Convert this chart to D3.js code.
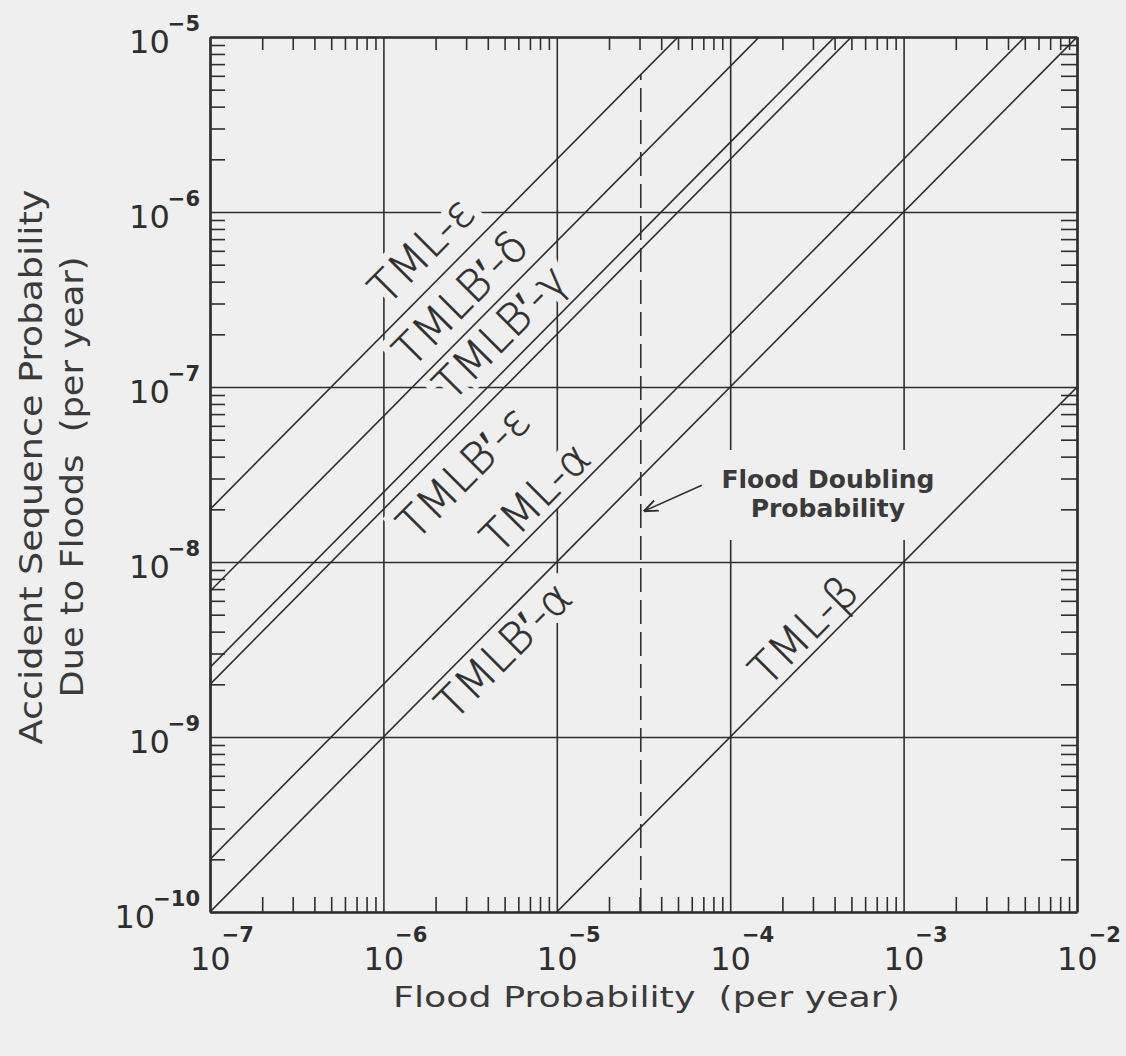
<!DOCTYPE html>
<html>
<head>
<meta charset="utf-8">
<script src="https://cdn.jsdelivr.net/npm/d3@7"></script>
<style>
body { margin: 0; background: #efefef; }
svg { display: block; }
text { font-family: "DejaVu Sans", "Liberation Sans", sans-serif; white-space: pre; }
</style>
</head>
<body>
<script>
// accident sequences, each one is sequence prob = ratio * flood prob
const SEQUENCES = ["TML-ε", "TMLB′-δ", "TMLB′-γ", "TMLB′-ε", "TML-α", "TMLB′-α", "TML-β"]
const RATIOS = [0.2, 0.068, 0.025, 0.02, 0.002, 0.001, 1e-5]

// where the sequence names sit (flood prob, sequence prob)
const LABEL_X = [1.65e-6, 2.77e-6, 4.7e-6, 2.88e-6, 7.48e-6, 4.9e-6, 2.63e-4]
const LABEL_Y = [6.07e-7, 3.23e-7, 2.06e-7, 3.27e-8, 2.35e-8, 3.14e-9, 4.08e-9]

const X_DECADES = [-7, -6, -5, -4, -3, -2]
const Y_DECADES = [-10, -9, -8, -7, -6, -5]

const FLOOD_DOUBLING = 3.05e-5
const NOTE_LINES = ["Flood Doubling", "Probability"]
const NOTE_AT = [3.66e-4, 2.65e-8]
const ARROW_TIP_Y = 1.95e-8

const W = 1126, H = 1056
const LEFT = 210, RIGHT = 1077, TOP = 37, BOTTOM = 912
const BG = "#efefef"
const INK = "#2e2e2e"

const svg = d3.select("body").append("svg")
    .attr("width", W)
    .attr("height", H)

svg.append("rect").attr("width", W).attr("height", H).attr("fill", BG)

const x = d3.scaleLog().domain([1e-7, 1e-2]).range([LEFT, RIGHT])
const y = d3.scaleLog().domain([1e-10, 1e-5]).range([BOTTOM, TOP])

const isDecade = v => Math.abs(Math.log10(v) - Math.round(Math.log10(v))) < 1e-6
const xMinor = x.ticks().filter(v => !isDecade(v))
const yMinor = y.ticks().filter(v => !isDecade(v))

// grid lines at the decades
svg.append("g")
    .attr("transform", `translate(0,${BOTTOM})`)
    .call(d3.axisBottom(x).tickValues(X_DECADES.map(d => 10 ** d)).tickSize(-(BOTTOM - TOP)).tickFormat(""))
    .call(g => g.select(".domain").remove())
    .call(g => g.selectAll("line").attr("stroke", INK).attr("stroke-width", 1.4))
svg.append("g")
    .attr("transform", `translate(${LEFT},0)`)
    .call(d3.axisLeft(y).tickValues(Y_DECADES.map(d => 10 ** d)).tickSize(-(RIGHT - LEFT)).tickFormat(""))
    .call(g => g.select(".domain").remove())
    .call(g => g.selectAll("line").attr("stroke", INK).attr("stroke-width", 1.4))

// label knockouts so the grid breaks round the lettering
const angle = Math.atan2(y(1e-9) - y(1e-10), x(1e-6) - x(1e-7)) * 180 / Math.PI
const labelG = d => `translate(${x(LABEL_X[d])},${y(LABEL_Y[d])}) rotate(${angle})`

svg.append("g").selectAll("text")
    .data(d3.range(SEQUENCES.length))
    .join("text")
    .attr("transform", labelG)
    .attr("text-anchor", "middle")
    .attr("dy", "0.36em")
    .attr("font-size", 44)
    .attr("font-weight", 200)
    .attr("fill", BG)
    .attr("stroke", BG)
    .attr("stroke-width", 16)
    .text(d => SEQUENCES[d])

const noteX = x(NOTE_AT[0]), noteY = y(NOTE_AT[1])
svg.append("rect")
    .attr("x", noteX - 128).attr("y", noteY - 38)
    .attr("width", 250).attr("height", 90)
    .attr("fill", BG)

// sequence lines
const clip = svg.append("clipPath").attr("id", "plot")
clip.append("rect").attr("x", LEFT).attr("y", TOP).attr("width", RIGHT - LEFT).attr("height", BOTTOM - TOP)

const line = d3.line().x(d => x(d[0])).y(d => y(d[1]))
svg.append("g")
    .attr("clip-path", "url(#plot)")
    .selectAll("path")
    .data(RATIOS)
    .join("path")
    .attr("d", r => line(x.domain().map(f => [f, r * f])))
    .attr("fill", "none")
    .attr("stroke", INK)
    .attr("stroke-width", 1.6)

// flood doubling probability, dashed up to the top line
svg.append("path")
    .attr("d", line([[FLOOD_DOUBLING, y.domain()[0]], [FLOOD_DOUBLING, RATIOS[0] * FLOOD_DOUBLING]]))
    .attr("stroke", INK)
    .attr("stroke-width", 1.6)
    .attr("stroke-dasharray", "24,8")
    .attr("fill", "none")

// frame + minor ticks on all four sides
svg.append("g").attr("transform", `translate(0,${BOTTOM})`)
    .call(d3.axisBottom(x).tickValues(xMinor).tickSizeInner(-15).tickSizeOuter(0).tickFormat(""))
svg.append("g").attr("transform", `translate(0,${TOP})`)
    .call(d3.axisTop(x).tickValues(xMinor).tickSizeInner(-13).tickSizeOuter(0).tickFormat(""))
svg.append("g").attr("transform", `translate(${LEFT},0)`)
    .call(d3.axisLeft(y).tickValues(yMinor).tickSizeInner(-15).tickSizeOuter(0).tickFormat(""))
svg.append("g").attr("transform", `translate(${RIGHT},0)`)
    .call(d3.axisRight(y).tickValues(yMinor).tickSizeInner(-16).tickSizeOuter(0).tickFormat(""))
svg.selectAll(".tick line").attr("stroke", INK).attr("stroke-width", 1.6)
svg.selectAll(".domain").attr("stroke", INK).attr("stroke-width", 2.6)

// tick labels 10^n
const xl = svg.append("g").selectAll("text")
    .data(X_DECADES)
    .join("text")
    .attr("x", d => x(10 ** d) - 20)
    .attr("y", BOTTOM + 58)
    .attr("fill", INK)
    .attr("font-size", 32)
xl.append("tspan").text("10")
xl.append("tspan").attr("dx", -9).attr("dy", -28)
    .attr("font-size", 21).attr("font-weight", "bold")
    .text(d => "−" + (-d))

const yl = svg.append("g").selectAll("text")
    .data(Y_DECADES)
    .join("text")
    .attr("x", LEFT - 10)
    .attr("y", d => y(10 ** d) + 16)
    .attr("text-anchor", "end")
    .attr("fill", INK)
    .attr("font-size", 32)
yl.append("tspan").text("10")
yl.append("tspan").attr("dx", -2).attr("dy", -22)
    .attr("font-size", 21).attr("font-weight", "bold")
    .text(d => "−" + (-d))

// sequence names
svg.append("g").selectAll("text")
    .data(d3.range(SEQUENCES.length))
    .join("text")
    .attr("transform", labelG)
    .attr("text-anchor", "middle")
    .attr("dy", "0.36em")
    .attr("font-size", 44)
    .attr("font-weight", 200)
    .attr("fill", INK)
    .attr("stroke", INK)
    .attr("stroke-width", 0.5)
    .text(d => SEQUENCES[d])

// flood doubling note with arrow
svg.append("defs").append("marker")
    .attr("id", "head")
    .attr("viewBox", "0 0 10 10")
    .attr("refX", 10).attr("refY", 5)
    .attr("markerWidth", 14).attr("markerHeight", 14)
    .attr("markerUnits", "userSpaceOnUse")
    .attr("orient", "auto")
    .append("path")
    .attr("d", "M0,1 L10,5 L0,9")
    .attr("fill", "none")
    .attr("stroke", INK)
    .attr("stroke-width", 1.4)

const tipX = x(FLOOD_DOUBLING) + 3, tipY = y(ARROW_TIP_Y)
svg.append("line")
    .attr("x1", tipX + 58).attr("y1", tipY - 26)
    .attr("x2", tipX).attr("y2", tipY)
    .attr("stroke", INK)
    .attr("stroke-width", 1.5)
    .attr("marker-end", "url(#head)")

svg.append("g").selectAll("text")
    .data(NOTE_LINES)
    .join("text")
    .attr("x", noteX)
    .attr("y", (d, i) => noteY + i * 29)
    .attr("text-anchor", "middle")
    .attr("font-size", 25)
    .attr("font-weight", "bold")
    .attr("fill", "#3a3a3a")
    .text(d => d)

// axis titles
svg.append("text")
    .attr("x", 393).attr("y", BOTTOM + 95)
    .attr("font-size", 28)
    .attr("fill", "#3a3a3a")
    .attr("textLength", 507)
    .attr("lengthAdjust", "spacingAndGlyphs")
    .text("Flood Probability  (per year)")

svg.append("text")
    .attr("transform", "translate(42,467) rotate(-90)")
    .attr("text-anchor", "middle")
    .attr("font-size", 32)
    .attr("fill", "#3a3a3a")
    .attr("textLength", 555)
    .attr("lengthAdjust", "spacingAndGlyphs")
    .text("Accident Sequence Probability")

svg.append("text")
    .attr("transform", "translate(83,477) rotate(-90)")
    .attr("text-anchor", "middle")
    .attr("font-size", 32)
    .attr("fill", "#3a3a3a")
    .attr("textLength", 441)
    .attr("lengthAdjust", "spacingAndGlyphs")
    .text("Due to Floods  (per year)")
</script>
</body>
</html>
